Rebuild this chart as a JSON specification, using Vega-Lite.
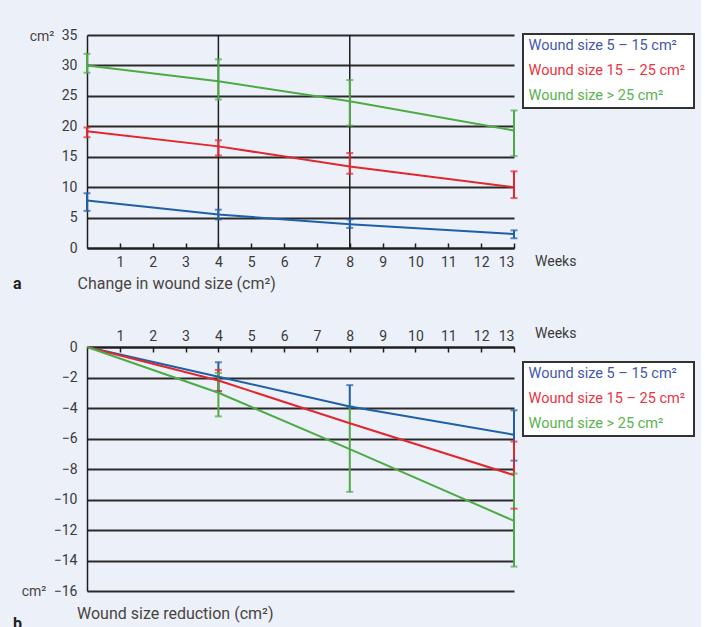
{
  "$schema": "https://vega.github.io/schema/vega-lite/v6.json",
  "background": "#ECF1F9",
  "padding": {"left": 13, "top": 28, "right": 6, "bottom": 0},
  "config": {
    "font": "Roboto",
    "view": {"stroke": null},
    "axis": {"labelColor": "#3a3a3a", "titleColor": "#4a4440", "labelFont": "Roboto", "titleFont": "Roboto", "labelOverlap": false, "tickCount": 40, "format": "d", "labelFontSize": 14, "titleFontWeight": "normal", "domainColor": "#1e1e1e"},
    "axisX": {"grid": false, "domainWidth": 2, "tickColor": "#1e1e1e", "tickWidth": 1.5, "tickSize": -5},
    "axisY": {"grid": true, "gridColor": "#2a2a2a", "gridWidth": 1.8, "domainWidth": 1.5, "ticks": false, "labelPadding": 10, "titleAngle": 0, "titleFontSize": 14, "titleAlign": "right", "titleBaseline": "middle"}
  },
  "datasets": {
    "a": [
      {"series": "Wound size 5 – 15 cm²", "week": 0, "mean": 7.8, "lo": 6.1, "hi": 9.0},
      {"series": "Wound size 5 – 15 cm²", "week": 4, "mean": 5.5, "lo": 4.7, "hi": 6.3},
      {"series": "Wound size 5 – 15 cm²", "week": 8, "mean": 3.9, "lo": 3.3, "hi": 4.7},
      {"series": "Wound size 5 – 15 cm²", "week": 13, "mean": 2.3, "lo": 1.6, "hi": 2.9},
      {"series": "Wound size 15 – 25 cm²", "week": 0, "mean": 19.2, "lo": 18.2, "hi": 19.8},
      {"series": "Wound size 15 – 25 cm²", "week": 4, "mean": 16.7, "lo": 15.2, "hi": 17.7},
      {"series": "Wound size 15 – 25 cm²", "week": 8, "mean": 13.4, "lo": 12.2, "hi": 15.6},
      {"series": "Wound size 15 – 25 cm²", "week": 13, "mean": 10.0, "lo": 8.2, "hi": 12.6},
      {"series": "Wound size > 25 cm²", "week": 0, "mean": 30.0, "lo": 28.8, "hi": 31.9},
      {"series": "Wound size > 25 cm²", "week": 4, "mean": 27.4, "lo": 24.4, "hi": 31.0},
      {"series": "Wound size > 25 cm²", "week": 8, "mean": 24.1, "lo": 20.1, "hi": 27.6},
      {"series": "Wound size > 25 cm²", "week": 13, "mean": 19.3, "lo": 15.1, "hi": 22.6}
    ],
    "b": [
      {"series": "Wound size 5 – 15 cm²", "week": 0, "mean": 0, "lo": null, "hi": null},
      {"series": "Wound size 5 – 15 cm²", "week": 4, "mean": -1.95, "lo": -2.9, "hi": -1.0},
      {"series": "Wound size 5 – 15 cm²", "week": 8, "mean": -3.9, "lo": -3.95, "hi": -2.5},
      {"series": "Wound size 5 – 15 cm²", "week": 13, "mean": -5.75, "lo": -7.45, "hi": -4.15},
      {"series": "Wound size 15 – 25 cm²", "week": 0, "mean": 0, "lo": null, "hi": null},
      {"series": "Wound size 15 – 25 cm²", "week": 4, "mean": -2.2, "lo": -2.9, "hi": -1.5},
      {"series": "Wound size 15 – 25 cm²", "week": 8, "mean": -5.0, "lo": null, "hi": null},
      {"series": "Wound size 15 – 25 cm²", "week": 13, "mean": -8.4, "lo": -10.6, "hi": -6.2},
      {"series": "Wound size > 25 cm²", "week": 0, "mean": 0, "lo": null, "hi": null},
      {"series": "Wound size > 25 cm²", "week": 4, "mean": -3.0, "lo": -4.55, "hi": -1.7},
      {"series": "Wound size > 25 cm²", "week": 8, "mean": -6.7, "lo": -9.5, "hi": -3.9},
      {"series": "Wound size > 25 cm²", "week": 13, "mean": -11.4, "lo": -14.4, "hi": -8.3}
    ],
    "vlines": [{"week": 4}, {"week": 8}]
  },
  "bounds": "flush",
  "spacing": 99,
  "resolve": {"scale": {"color": "independent", "x": "independent", "y": "independent"}, "legend": {"color": "independent"}},
  "vconcat": [
    {
      "width": 427,
      "height": 213,
      "layer": [
        {
          "data": {"name": "vlines"},
          "mark": {"type": "rule", "color": "#1e1e1e", "strokeWidth": 1.5},
          "encoding": {"x": {"field": "week", "type": "quantitative", "scale": {"domain": [0, 13], "nice": false},
            "axis": {"orient": "bottom", "values": [1,2,3,4,5,6,7,8,9,10,11,12,13], "labelPadding": 12, "title": "Change in wound size (cm²)", "titleFontSize": 16, "titleX": -10, "titleY": 35, "titleAlign": "left", "titleBaseline": "middle", "titleAnchor": null}}}
        },
        {
          "data": {"name": "a"},
          "mark": {"type": "rule", "strokeWidth": 2},
          "encoding": {
            "x": {"field": "week", "type": "quantitative", "scale": {"domain": [0, 13], "nice": false},
              "axis": {"orient": "bottom", "values": [1,2,3,4,5,6,7,8,9,10,11,12,13], "labelPadding": 12, "title": "Change in wound size (cm²)", "titleFontSize": 16, "titleX": -10, "titleY": 35, "titleAlign": "left", "titleBaseline": "middle", "titleAnchor": null}},
            "y": {"field": "lo", "type": "quantitative", "scale": {"domain": [0, 35], "nice": false},
              "axis": {"values": [0,5,10,15,20,25,30,35], "title": "cm²", "titleX": -33, "titleY": 1, "titleAnchor": null}},
            "y2": {"field": "hi"},
            "color": {"field": "series", "type": "nominal"}
          }
        },
        {
          "data": {"name": "a"},
          "mark": {"type": "tick", "orient": "horizontal", "size": 7, "thickness": 2},
          "encoding": {
            "x": {"field": "week", "type": "quantitative"},
            "y": {"field": "lo", "type": "quantitative"},
            "color": {"field": "series", "type": "nominal"}
          }
        },
        {
          "data": {"name": "a"},
          "mark": {"type": "tick", "orient": "horizontal", "size": 7, "thickness": 2},
          "encoding": {
            "x": {"field": "week", "type": "quantitative"},
            "y": {"field": "hi", "type": "quantitative"},
            "color": {"field": "series", "type": "nominal"}
          }
        },
        {
          "data": {"name": "a"},
          "mark": {"type": "line", "strokeWidth": 2},
          "encoding": {
            "x": {"field": "week", "type": "quantitative"},
            "y": {"field": "mean", "type": "quantitative"},
            "color": {
              "field": "series", "type": "nominal",
              "scale": {"domain": ["Wound size 5 – 15 cm²", "Wound size 15 – 25 cm²", "Wound size > 25 cm²"], "range": ["#1F5FA8", "#E2262E", "#4DAA45"]},
              "legend": {
                "orient": "none", "legendX": 436, "legendY": -1,
                "title": " ", "titleOrient": "right", "titlePadding": 4, "titleFontSize": 14,
                "fillColor": "white", "strokeColor": "#333333", "padding": 5,
                "symbolType": "circle", "symbolSize": 0, "symbolOpacity": 0, "symbolStrokeWidth": 0, "labelOffset": -14,
                "labelFontSize": 14.5, "labelFont": "Roboto", "rowPadding": 10, "labelBaseline": "middle",
                "encode": {
                  "legend": {"update": {"strokeWidth": {"value": 2}}},
                  "labels": {"update": {"fill": {"signal": "datum.index === 0 ? '#3F58AE' : datum.index === 1 ? '#EA3440' : '#58B34C'"}}}
                }
              }
            }
          }
        },
        {
          "data": {"values": [{"week": 13, "v": 0, "t": "Weeks"}]},
          "mark": {"type": "text", "align": "left", "baseline": "middle", "dx": 21, "dy": 14, "fontSize": 14, "color": "#3a3a3a"},
          "encoding": {"x": {"field": "week", "type": "quantitative"}, "y": {"field": "v", "type": "quantitative"}, "text": {"field": "t"}}
        },
        {
          "data": {"values": [{"week": 0, "v": 0, "t": "a"}]},
          "mark": {"type": "text", "align": "left", "baseline": "middle", "dx": -74, "dy": 36, "fontSize": 16, "fontWeight": "bold", "color": "#222222"},
          "encoding": {"x": {"field": "week", "type": "quantitative"}, "y": {"field": "v", "type": "quantitative"}, "text": {"field": "t"}}
        }
      ]
    },
    {
      "width": 427,
      "height": 244,
      "layer": [
        {
          "data": {"name": "b"},
          "transform": [{"filter": "datum.lo != null"}],
          "mark": {"type": "rule", "strokeWidth": 2},
          "encoding": {
            "x": {"field": "week", "type": "quantitative", "scale": {"domain": [0, 13], "nice": false},
              "axis": {"orient": "top", "values": [1,2,3,4,5,6,7,8,9,10,11,12,13], "labelPadding": 9, "title": null}},
            "y": {"field": "lo", "type": "quantitative", "scale": {"domain": [-16, 0], "nice": false},
              "axis": {"values": [-16,-14,-12,-10,-8,-6,-4,-2,0], "title": "cm²", "titleX": -41, "titleY": 244, "titleAnchor": null}},
            "y2": {"field": "hi"},
            "color": {"field": "series", "type": "nominal"}
          }
        },
        {
          "data": {"name": "b"},
          "transform": [{"filter": "datum.lo != null"}],
          "mark": {"type": "tick", "orient": "horizontal", "size": 7, "thickness": 2},
          "encoding": {
            "x": {"field": "week", "type": "quantitative"},
            "y": {"field": "lo", "type": "quantitative"},
            "color": {"field": "series", "type": "nominal"}
          }
        },
        {
          "data": {"name": "b"},
          "transform": [{"filter": "datum.lo != null"}],
          "mark": {"type": "tick", "orient": "horizontal", "size": 7, "thickness": 2},
          "encoding": {
            "x": {"field": "week", "type": "quantitative"},
            "y": {"field": "hi", "type": "quantitative"},
            "color": {"field": "series", "type": "nominal"}
          }
        },
        {
          "data": {"name": "b"},
          "mark": {"type": "line", "strokeWidth": 2},
          "encoding": {
            "x": {"field": "week", "type": "quantitative"},
            "y": {"field": "mean", "type": "quantitative"},
            "color": {
              "field": "series", "type": "nominal",
              "scale": {"domain": ["Wound size 5 – 15 cm²", "Wound size 15 – 25 cm²", "Wound size > 25 cm²"], "range": ["#1F5FA8", "#E2262E", "#4DAA45"]},
              "legend": {
                "orient": "none", "legendX": 436, "legendY": 15,
                "title": " ", "titleOrient": "right", "titlePadding": 4, "titleFontSize": 14,
                "fillColor": "white", "strokeColor": "#333333", "padding": 5,
                "symbolType": "circle", "symbolSize": 0, "symbolOpacity": 0, "symbolStrokeWidth": 0, "labelOffset": -14,
                "labelFontSize": 14.5, "labelFont": "Roboto", "rowPadding": 10, "labelBaseline": "middle",
                "encode": {
                  "legend": {"update": {"strokeWidth": {"value": 2}}},
                  "labels": {"update": {"fill": {"signal": "datum.index === 0 ? '#3F58AE' : datum.index === 1 ? '#EA3440' : '#58B34C'"}}}
                }
              }
            }
          }
        },
        {
          "data": {"values": [{"week": 13, "v": 0, "t": "Weeks"}]},
          "mark": {"type": "text", "align": "left", "baseline": "middle", "dx": 21, "dy": -13, "fontSize": 14, "color": "#3a3a3a"},
          "encoding": {"x": {"field": "week", "type": "quantitative"}, "y": {"field": "v", "type": "quantitative"}, "text": {"field": "t"}}
        },
        {
          "data": {"values": [{"week": 0, "v": -16, "t": "Wound size reduction (cm²)"}]},
          "mark": {"type": "text", "align": "left", "baseline": "middle", "dx": -10, "dy": 23, "fontSize": 16, "color": "#4a4440"},
          "encoding": {"x": {"field": "week", "type": "quantitative"}, "y": {"field": "v", "type": "quantitative"}, "text": {"field": "t"}}
        },
        {
          "data": {"values": [{"week": 0, "v": -16, "t": "b"}]},
          "mark": {"type": "text", "align": "left", "baseline": "middle", "dx": -74, "dy": 33, "fontSize": 16, "fontWeight": "bold", "color": "#222222"},
          "encoding": {"x": {"field": "week", "type": "quantitative"}, "y": {"field": "v", "type": "quantitative"}, "text": {"field": "t"}}
        }
      ]
    }
  ]
}
